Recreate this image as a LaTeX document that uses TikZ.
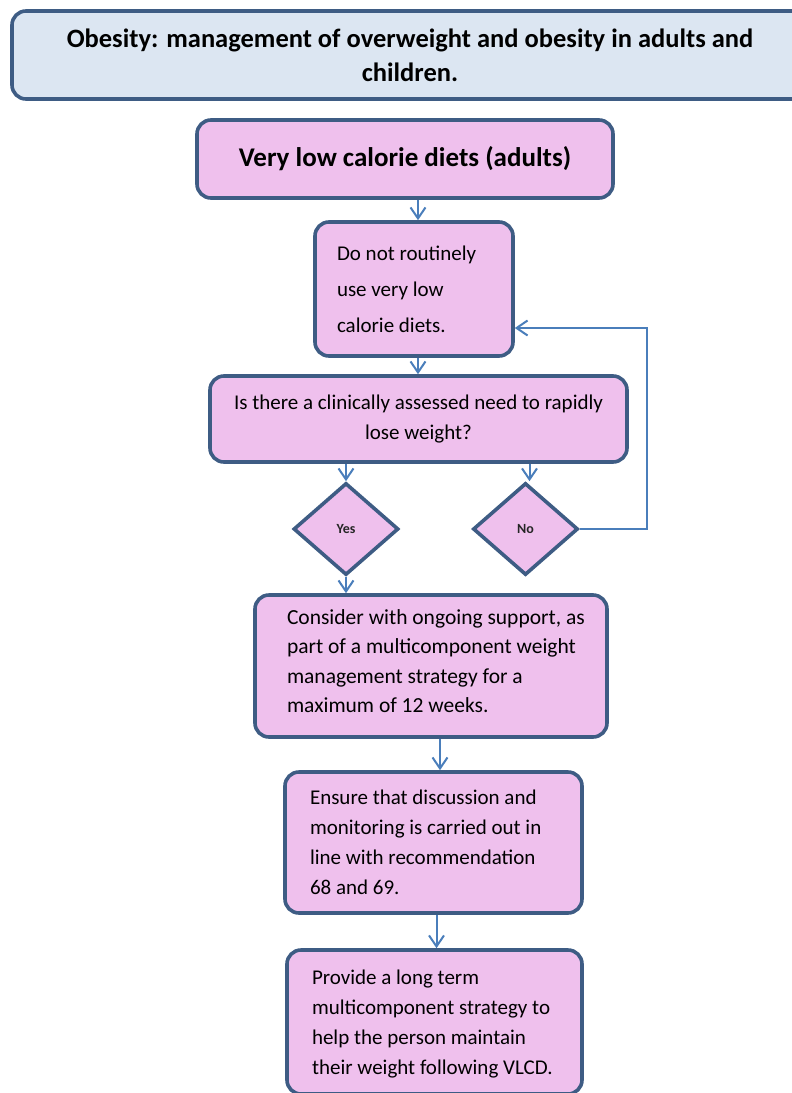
\documentclass[tikz,border=0pt]{standalone}
\usepackage{fontspec}
\setmainfont{Carlito}
\usetikzlibrary{shapes.geometric,arrows.meta,calc}
\definecolor{pinkfill}{RGB}{239,192,237}
\definecolor{boxborder}{RGB}{62,92,132}
\definecolor{titlefill}{RGB}{220,230,242}
\definecolor{arrowblue}{RGB}{74,126,187}
\begin{document}
\begin{tikzpicture}[x=1pt,y=-1pt,
  box/.style={draw=boxborder, fill=pinkfill, line width=3.6pt, rounded corners=14pt,
    inner ysep=0pt},
  lbox/.style={box, execute at begin node={\raggedright\rightskip=-40pt plus 1fil\spaceskip=\fontdimen2\font\frenchspacing\relax}},
  vshift/.style={execute at end node={\endgraf\vspace*{#1}}},
  cbox/.style={box, align=center},
  dia/.style={draw=boxborder, fill=pinkfill, line width=3.6pt, diamond, inner sep=0pt,
    text=black!85, font=\fontsize{14}{16}\selectfont\bfseries},
  conn/.style={draw=arrowblue, line width=2pt, -{Straight Barb[length=11pt,width=15pt,line width=2pt]}},
  body/.style={font=\fontsize{21}{30}\selectfont}
]
\useasboundingbox (0,0) rectangle (792,1093);
\node[cbox, fill=titlefill, minimum width=796pt, minimum height=88pt,
  font=\fontsize{26.5}{34}\selectfont\bfseries] (title) at (410,55)
  {Obesity: management of overweight and obesity in adults and\\children.};
\node[cbox, minimum width=416pt, minimum height=78pt,
  font=\fontsize{27}{30}\selectfont\bfseries] (b1) at (405,159)
  {Very low calorie diets (adults)};
\node[lbox, inner xsep=22pt, text width=154pt, minimum width=198pt, minimum height=134pt,
  font=\fontsize{21}{36}\selectfont] (b2) at (414,289)
  {Do not routinely\\use very low\\calorie diets.};
\node[cbox, body, minimum width=417pt, minimum height=86pt] (b3) at (418.5,419)
  {Is there a clinically assessed need to rapidly\\lose weight?};
\node[dia, minimum width=105pt, minimum height=92pt] (yes) at (346,529) {Yes};
\node[dia, minimum width=105pt, minimum height=92pt] (no) at (525.5,529) {No};
\node[lbox, vshift=10pt, inner xsep=32pt, text width=288pt, minimum width=352pt, minimum height=142pt,
  font=\fontsize{21.5}{29.5}\selectfont] (b4) at (431,666)
  {Consider with ongoing support, as\\part of a multicomponent weight\\management strategy for a\\maximum of 12 weeks.};
\node[lbox, body, inner xsep=25pt, text width=247pt, minimum width=297pt, minimum height=141pt] (b5) at (433.5,842.5)
  {Ensure that discussion and\\monitoring is carried out in\\line with recommendation\\68 and 69.};
\node[lbox, body, vshift=-4pt, inner xsep=25pt, text width=245pt, minimum width=293pt, minimum height=144pt] (b6) at (434.5,1022)
  {Provide a long term\\multicomponent strategy to\\help the person maintain\\their weight following VLCD.};
\coordinate (fb) at (647,328);
\draw[conn] ($(b2.north |- b1.south)+(4,0)$) -- ($(b2.north)+(4,0)$);
\draw[conn] ($(b2.south)+(4,0)$) -- ($(b2.south |- b3.north)+(4,0)$);
\draw[conn] (yes.north |- b3.south) -- (yes.north);
\draw[conn] ($(no.north |- b3.south)+(4,0)$) -- ($(no.north)+(4,0)$);
\draw[conn] (no.east) -| (fb) -- (b2.east |- fb);
\draw[conn] (yes.south) -- (yes.south |- b4.north);
\draw[conn] ($(b4.south)+(9,0)$) -- ($(b4.south |- b5.north)+(9,0)$);
\draw[conn] ($(b5.south)+(3,0)$) -- ($(b5.south |- b6.north)+(3,0)$);
\end{tikzpicture}
\end{document}
